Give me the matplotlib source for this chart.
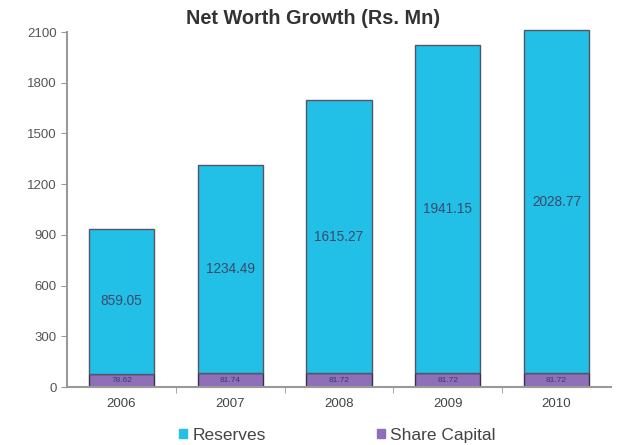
import matplotlib.pyplot as plt
import numpy as np

plt.rcParams['font.family'] = ['Liberation Sans', 'DejaVu Sans']

years = ['2006', '2007', '2008', '2009', '2010']
share_capital = [78.62, 81.74, 81.72, 81.72, 81.72]
reserves = [859.05, 1234.49, 1615.27, 1941.15, 2028.77]

c_res = '#22bfe6'
c_cap = '#8f6fb8'

fig = plt.figure(figsize=(6.22, 4.45), dpi=100)
ax = fig.add_axes([0.108, 0.13, 0.874, 0.798])

x = np.arange(len(years))
w = 0.6
b1 = ax.bar(x, share_capital, w, color=c_cap, edgecolor='#333344', linewidth=1, label='Share Capital')
b2 = ax.bar(x, reserves, w, bottom=share_capital, color=c_res, edgecolor='#555566', linewidth=1,
            label='Reserves', clip_on=False)

for i in range(len(years)):
    ax.text(x[i], share_capital[i] / 2, '%.2f' % share_capital[i], ha='center', va='center',
            fontsize=6, color='#3a3a6a')
    ax.text(x[i], share_capital[i] + reserves[i] / 2, '%.2f' % reserves[i], ha='center', va='center',
            fontsize=9.8, color='#3a4a6a')

ax.set_xlim(-0.5, len(years) - 0.5)
ax.set_ylim(0, 2100)
ax.set_yticks(np.arange(0, 2101, 300))
ax.set_xticks(x)
ax.set_xticklabels(years)
ax.set_xticks(np.arange(0.5, len(years) - 0.5, 1), minor=True)
ax.tick_params(axis='x', which='major', length=0, labelsize=9.5, labelcolor='#444444', pad=8)
ax.tick_params(axis='x', which='minor', length=4, color='#999999', direction='out')
ax.tick_params(axis='y', length=4, color='#999999', labelsize=9.5, labelcolor='#555555')

ax.spines['right'].set_color('none')
ax.spines['top'].set_color('none')
ax.spines['left'].set_color('#999999')
ax.spines['bottom'].set_color('#999999')
ax.spines['left'].set_linewidth(1.5)
ax.spines['bottom'].set_linewidth(1.5)

fig.text(0.503, 0.958, 'Net Worth Growth (Rs. Mn)', ha='center', va='center',
         fontsize=14.3, fontweight='bold', color='#333333')

h = [plt.Rectangle((0, 0), 1, 1, color=c_res), plt.Rectangle((0, 0), 1, 1, color=c_cap)]
ax.legend(h, ['Reserves', 'Share Capital'], loc='upper center', bbox_to_anchor=(0.497, -0.07),
          ncol=2, frameon=False, fontsize=12.5, handlelength=0.45, handleheight=0.45,
          handletextpad=0.3, columnspacing=6.4, labelcolor='#444444')

fig.savefig('out.png', dpi=100)
